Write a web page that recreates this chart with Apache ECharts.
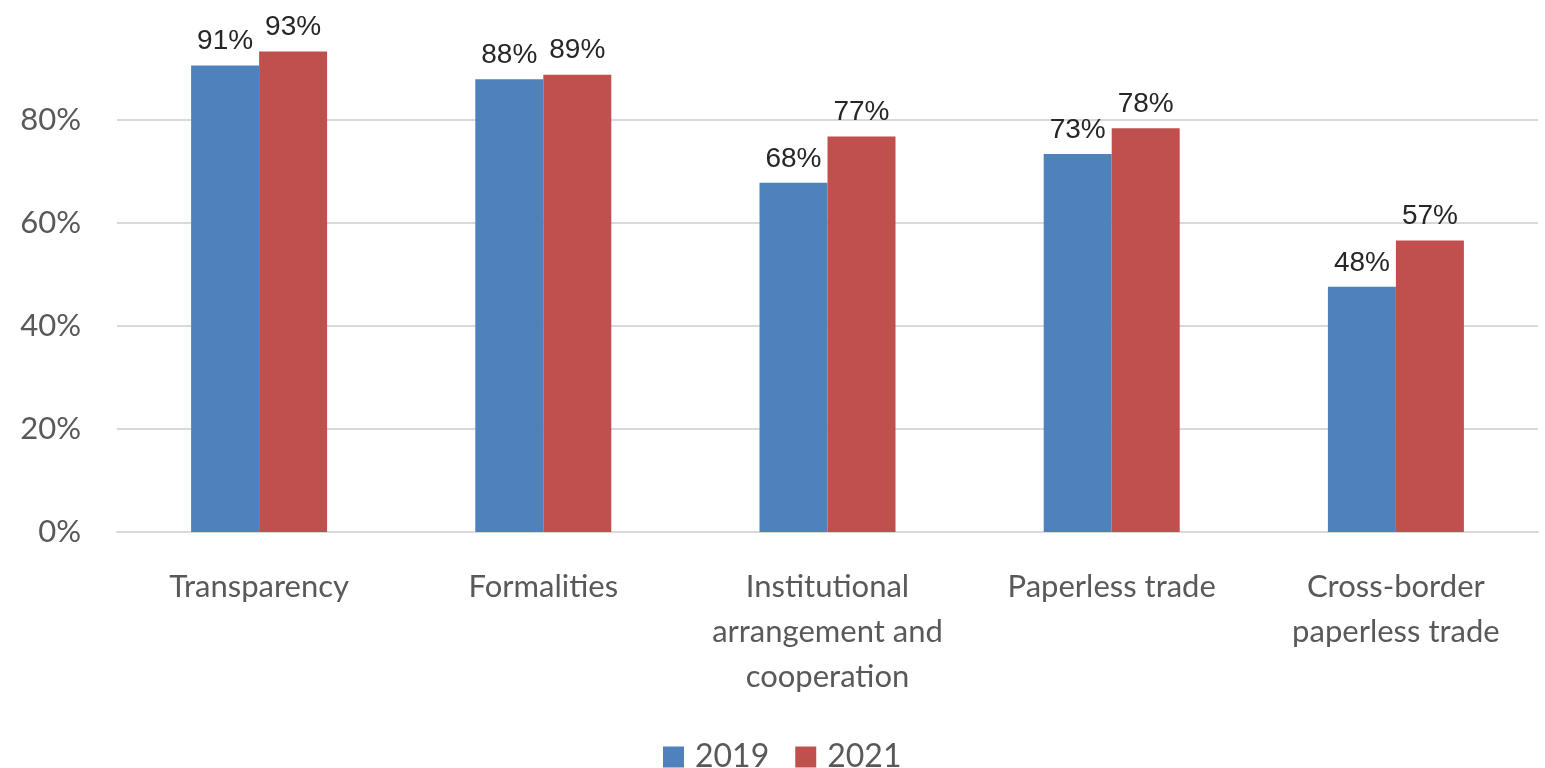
<!DOCTYPE html>
<html>
<head>
<meta charset="utf-8">
<script src="https://cdn.jsdelivr.net/npm/echarts@6/dist/echarts.min.js"></script>
<style>
html,body{margin:0;padding:0;background:#fff;}
#chart{width:1545px;height:768px;}
</style>
</head>
<body>
<div id="chart"></div>
<script>
var categories = ['Transparency', 'Formalities', 'Institutional\narrangement and\ncooperation', 'Paperless trade', 'Cross-border\npaperless trade'];
var seriesNames = ['2019', '2021'];
var values2019 = [90.6, 87.9, 67.8, 73.4, 47.6];
var values2021 = [93.3, 88.8, 76.8, 78.4, 56.6];
var yTicks = [0, 20, 40, 60, 80, 100];

var chart = echarts.init(document.getElementById('chart'));
var labelStyle = {
  show: true,
  position: 'top',
  distance: 10,
  fontFamily: 'Liberation Sans',
  fontSize: 28,
  color: '#262626',
  formatter: function (p) { return Math.round(p.value) + '%'; }
};
chart.setOption({
  animation: false,
  backgroundColor: '#ffffff',
  grid: { left: 117, right: 7, top: 17, bottom: 236, containLabel: false },
  legend: {
    top: 736,
    left: 658,
    itemWidth: 21,
    itemHeight: 21,
    itemGap: 26,
    icon: 'rect',
    textStyle: { fontFamily: 'Lato', fontSize: 32, color: '#595959', padding: [0, 0, 0, 6] },
    data: seriesNames
  },
  xAxis: {
    type: 'category',
    data: categories,
    axisLine: { show: true, lineStyle: { color: '#d9d9d9', width: 2 } },
    axisTick: { show: false },
    axisLabel: {
      interval: 0,
      margin: 32,
      fontFamily: 'Lato',
      fontSize: 31,
      lineHeight: 45,
      color: '#595959'
    }
  },
  yAxis: {
    type: 'value',
    min: yTicks[0],
    max: yTicks[yTicks.length - 1],
    interval: 20,
    axisLine: { show: false },
    axisTick: { show: false },
    axisLabel: {
      margin: 36,
      fontFamily: 'Lato',
      fontSize: 31,
      color: '#595959',
      formatter: function (v) { return v === 100 ? '' : v + '%'; }
    },
    splitLine: {
      show: true,
      lineStyle: { color: ['#d9d9d9', '#d9d9d9', '#d9d9d9', '#d9d9d9', '#d9d9d9', 'rgba(0,0,0,0)'], width: 2 }
    }
  },
  series: [
    {
      name: seriesNames[0],
      type: 'bar',
      data: values2019,
      barWidth: 68,
      barGap: '0%',
      itemStyle: { color: '#4F81BD' },
      label: labelStyle
    },
    {
      name: seriesNames[1],
      type: 'bar',
      data: values2021,
      barWidth: 68,
      barGap: '0%',
      itemStyle: { color: '#C0504D' },
      label: labelStyle
    }
  ]
});
</script>
</body>
</html>
